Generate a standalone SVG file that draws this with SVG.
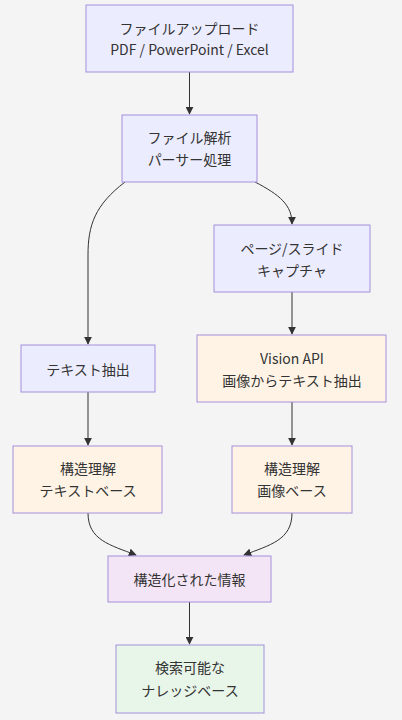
<svg xmlns="http://www.w3.org/2000/svg" width="402" height="720" viewBox="0 0 402 720">
<style>
.bg{fill:#f4f4f4}
.n rect{stroke:#a48fdc;stroke-width:1}
.blue rect{fill:#ececff}
.orange rect{fill:#fff3e6}
.purple rect{fill:#f3e5f5}
.green rect{fill:#e8f5e9}
text{font-family:"Noto Sans CJK JP","Noto Sans",sans-serif;font-size:14px;fill:#333;text-anchor:middle;dominant-baseline:central}
.e path{fill:none;stroke:#333;stroke-width:1;marker-end:url(#ah)}
</style>
<defs>
<marker id="ah" viewBox="0 0 10 10" refX="9" refY="5" markerWidth="8" markerHeight="8" markerUnits="userSpaceOnUse" orient="auto">
<path d="M0,0 L10,5 L0,10 z" fill="#333"/>
</marker>
</defs>
<rect class="bg" x="0" y="0" width="402" height="720"/>
<g class="e" id="edges">
<path d="M189.5,72 L189.5,114"/>
<path d="M125,182 C95,205 88,225 88,255 L88,344"/>
<path d="M255,182 C280,195 292,205 292,224"/>
<path d="M292,292 L292,334"/>
<path d="M88,392 L88,445"/>
<path d="M292,402 L292,445"/>
<path d="M88,513 C88,540 110,545 136,555"/>
<path d="M292,513 C292,540 270,545 244,555"/>
<path d="M189.5,602 L189.5,644"/>
</g>
<g id="n1" class="n blue"><rect x="86" y="5" width="207" height="67"/><text x="189.5" y="28">ファイルアップロード</text><text x="189.5" y="49">PDF / PowerPoint / Excel</text></g>
<g id="n2" class="n blue"><rect x="122" y="115" width="135" height="67"/><text x="189.5" y="137">ファイル解析</text><text x="189.5" y="159">パーサー処理</text></g>
<g id="n3" class="n blue"><rect x="214" y="225" width="156" height="67"/><text x="292" y="248">ページ/スライド</text><text x="292" y="270">キャプチャ</text></g>
<g id="n4" class="n blue"><rect x="21" y="345" width="134" height="47"/><text x="88" y="369">テキスト抽出</text></g>
<g id="n5" class="n orange"><rect x="197" y="335" width="189" height="67"/><text x="292" y="358">Vision API</text><text x="292" y="380">画像からテキスト抽出</text></g>
<g id="n6" class="n orange"><rect x="13" y="446" width="149" height="67"/><text x="88" y="468">構造理解</text><text x="88" y="490">テキストベース</text></g>
<g id="n7" class="n orange"><rect x="232" y="446" width="120" height="67"/><text x="292" y="468">構造理解</text><text x="292" y="490">画像ベース</text></g>
<g id="n8" class="n purple"><rect x="108" y="556" width="163" height="46"/><text x="189.5" y="579">構造化された情報</text></g>
<g id="n9" class="n green"><rect x="116" y="645" width="148" height="68"/><text x="190" y="667">検索可能な</text><text x="190" y="690">ナレッジベース</text></g>
</svg>
